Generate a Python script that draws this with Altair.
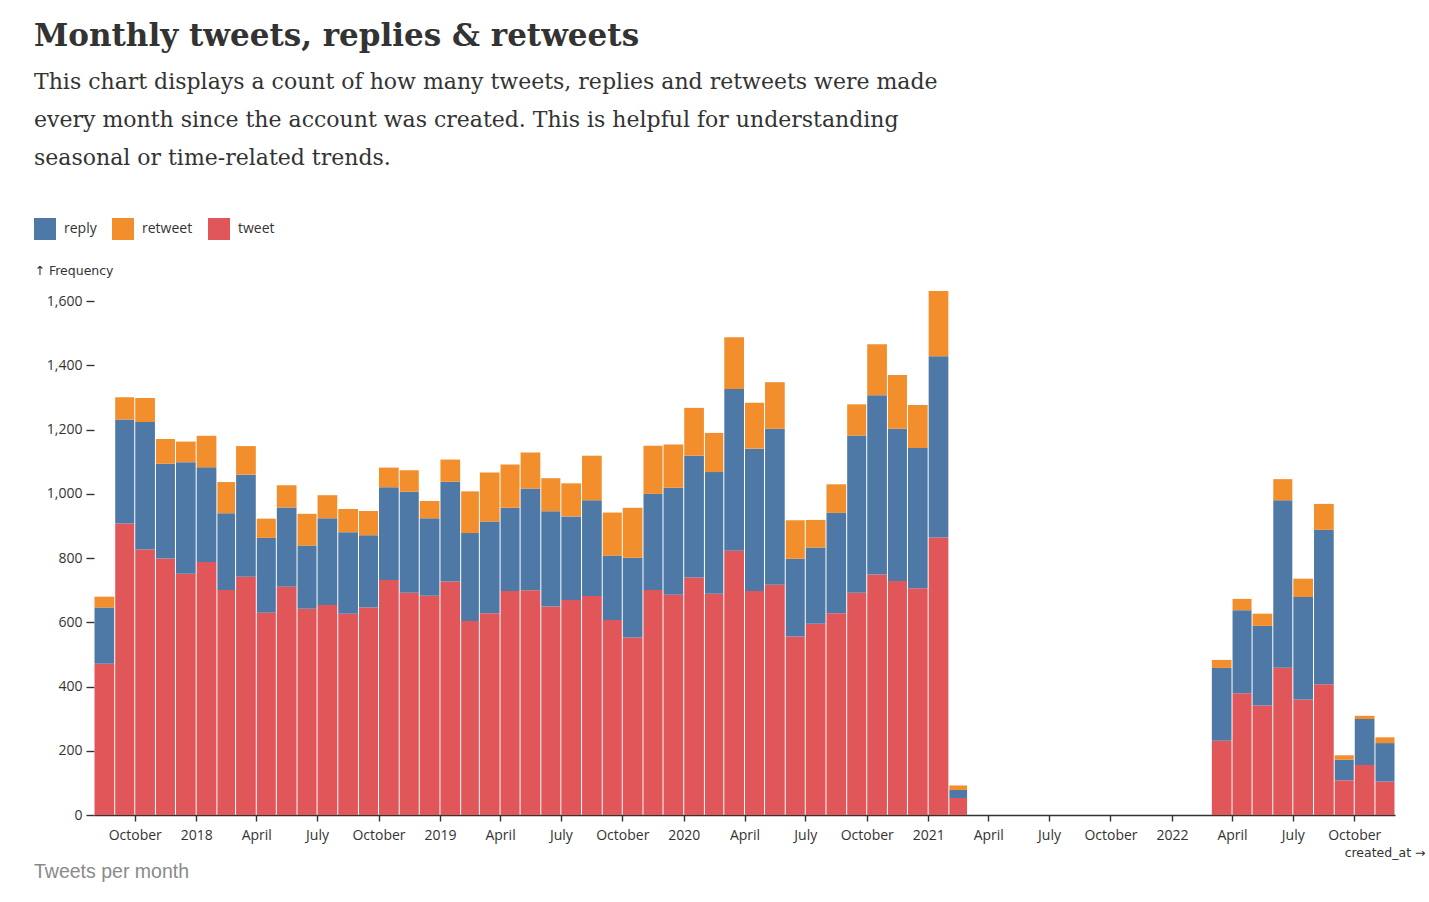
import altair as alt
import pandas as pd

# ---- data ----
months = [
    "2017-08", "2017-09", "2017-10", "2017-11", "2017-12",
    "2018-01", "2018-02", "2018-03", "2018-04", "2018-05", "2018-06",
    "2018-07", "2018-08", "2018-09", "2018-10", "2018-11", "2018-12",
    "2019-01", "2019-02", "2019-03", "2019-04", "2019-05", "2019-06",
    "2019-07", "2019-08", "2019-09", "2019-10", "2019-11", "2019-12",
    "2020-01", "2020-02", "2020-03", "2020-04", "2020-05", "2020-06",
    "2020-07", "2020-08", "2020-09", "2020-10", "2020-11", "2020-12",
    "2021-01", "2021-02",
    "2022-03", "2022-04", "2022-05", "2022-06", "2022-07", "2022-08",
    "2022-09", "2022-10", "2022-11",
]
tweets = [
    471, 908, 827, 799, 751,
    788, 701, 742, 630, 711, 642,
    654, 627, 646, 732, 692, 683,
    727, 604, 628, 698, 700, 649,
    670, 682, 607, 553, 701, 686,
    740, 689, 823, 698, 717, 556,
    596, 628, 692, 749, 729, 706,
    864, 53,
    231, 379, 341, 459, 360, 407,
    108, 156, 104,
]
replies = [
    175, 324, 397, 295, 348,
    295, 239, 318, 233, 247, 197,
    270, 254, 225, 289, 315, 241,
    311, 274, 286, 259, 317, 297,
    260, 298, 201, 248, 299, 333,
    379, 379, 504, 443, 486, 242,
    237, 313, 490, 558, 474, 437,
    565, 25,
    227, 259, 248, 521, 319, 481,
    64, 143, 120,
]
retweets = [
    34, 69, 75, 77, 64,
    98, 97, 89, 60, 69, 99,
    72, 72, 76, 61, 67, 54,
    69, 130, 153, 135, 112, 103,
    103, 139, 134, 156, 150, 135,
    149, 122, 161, 143, 145, 120,
    86, 89, 97, 159, 167, 134,
    203, 14,
    25, 35, 38, 66, 57, 81,
    14, 10, 18,
]

types = ["reply", "retweet", "tweet"]
colors = ["#4e79a7", "#f28e2c", "#e15759"]
stack_order = {"tweet": 0, "reply": 1, "retweet": 2}
y_ticks = [0, 200, 400, 600, 800, 1000, 1200, 1400, 1600]

title_text = "Monthly tweets, replies & retweets"
subtitle_lines = [
    "This chart displays a count of how many tweets, replies and retweets were made",
    "every month since the account was created. This is helpful for understanding",
    "seasonal or time-related trends.",
]
footer_text = "Tweets per month"

rows = []
for m, t, r, rt in zip(months, tweets, replies, retweets):
    start = pd.Timestamp(m + "-01")
    end = start + pd.offsets.MonthBegin(1)
    for typ, v in (("tweet", t), ("reply", r), ("retweet", rt)):
        rows.append({
            "created_at": start.strftime("%Y-%m-%d"),
            "end": end.strftime("%Y-%m-%d"),
            "type": typ,
            "count": v,
            "ord": stack_order[typ],
        })
df = pd.DataFrame(rows)

W = 1301
H = 524
SANS = "Open Sans"
ARROW_FONT = "DejaVu Sans"
TXT = "#333333"

bars = alt.Chart(df).transform_stack(
    stack="count",
    groupby=["created_at"],
    as_=["y0", "y1"],
    sort=[alt.SortField("ord", order="ascending")],
).mark_bar(xOffset=0.5, x2Offset=-0.5).encode(
    x=alt.X(
        "created_at:T",
        scale=alt.Scale(type="utc"),
        title="created_at →",
        axis=alt.Axis(
            tickCount={"interval": "month", "step": 3},
            labelExpr="utcFormat(datum.value, '%m') == '01' ? utcFormat(datum.value, '%Y') : utcFormat(datum.value, '%B')",
            grid=False,
            domainColor=TXT, domainWidth=1.6,
            tickColor=TXT, tickWidth=1.4, tickSize=6,
            labelFont=SANS, labelFontSize=14, labelColor=TXT, labelPadding=7,
            labelFlush=False, labelOverlap=False,
            titleFont=ARROW_FONT, titleFontSize=12.5, titleFontWeight="normal", titleColor=TXT,
            titleX=W + 30, titleY=37, titleAlign="right", titleBaseline="middle",
        ),
    ),
    x2="end:T",
    y=alt.Y(
        "y0:Q",
        scale=alt.Scale(nice=False, zero=True),
        title="↑ Frequency",
        axis=alt.Axis(
            values=y_ticks, format=",d",
            domain=False, grid=False,
            tickColor=TXT, tickWidth=1.4, tickSize=8,
            labelFont=SANS, labelFontSize=14, labelColor=TXT, labelPadding=4,
            titleFont=ARROW_FONT, titleFontSize=12.5, titleFontWeight="normal", titleColor=TXT,
            titleAngle=0, titleAlign="left", titleBaseline="middle",
            titleX=-60, titleY=-21,
        ),
    ),
    y2="y1:Q",
    color=alt.Color(
        "type:N",
        scale=alt.Scale(domain=types, range=colors),
        legend=alt.Legend(
            title=None, orient="none", direction="horizontal",
            legendX=-60, legendY=-73,
            symbolType="square", symbolSize=484, symbolStrokeWidth=0,
            symbolOpacity=1,
            labelFont=SANS, labelFontSize=14, labelColor=TXT, labelOffset=8,
            columnPadding=15, padding=0,
        ),
    ),
)

footer = alt.Chart(pd.DataFrame({"t": [footer_text]})).mark_text(
    align="left", baseline="middle", font="Liberation Sans", fontSize=19.5, color="#8a8a8a"
).encode(x=alt.value(-60), y=alt.value(581), text="t:N")

chart = alt.layer(bars, footer).properties(
    width=W,
    height=H,
    background="white",
    padding={"left": 34, "top": 20, "right": 0, "bottom": 5},
    title=alt.TitleParams(
        text=title_text,
        subtitle=subtitle_lines,
        anchor="start",
        frame="bounds",
        font="DejaVu Serif", fontSize=31, fontWeight="bold", color=TXT,
        subtitleFont="DejaVu Serif", subtitleFontSize=22, subtitleColor=TXT,
        subtitleLineHeight=38, subtitlePadding=19,
        offset=48.5,
    ),
).configure_view(stroke=None, strokeWidth=0)

chart.save("out.html", embed_options={"renderer": "svg", "actions": False})
